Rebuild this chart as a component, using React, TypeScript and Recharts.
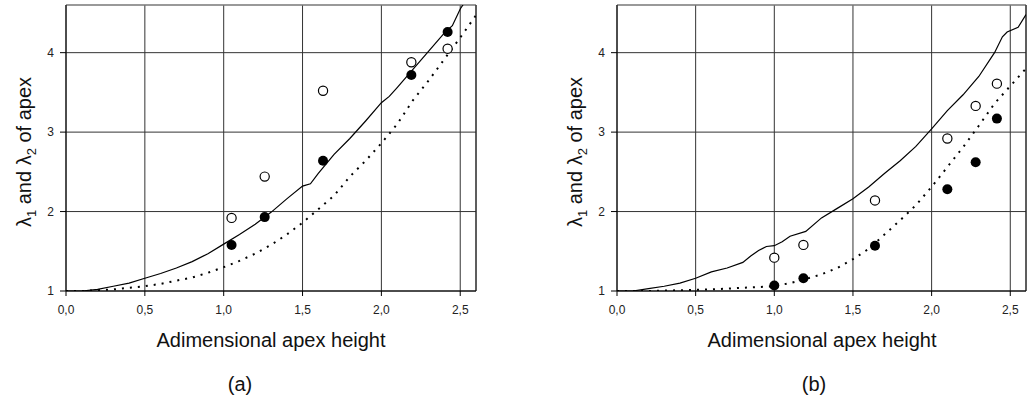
import React from "react";
import {
  ComposedChart,
  Line,
  Scatter,
  XAxis,
  YAxis,
  CartesianGrid,
  ReferenceLine,
} from "recharts";

// ---------- data ----------
const xTicks = [0, 0.5, 1, 1.5, 2, 2.5];
const yTicks = [1, 2, 3, 4];

// panel (a)
const aSolid = [
  { x: 0, y: 1.0 }, { x: 0.1, y: 1.0 }, { x: 0.2, y: 1.02 }, { x: 0.3, y: 1.06 },
  { x: 0.4, y: 1.1 }, { x: 0.5, y: 1.16 }, { x: 0.6, y: 1.22 }, { x: 0.7, y: 1.29 },
  { x: 0.8, y: 1.37 }, { x: 0.9, y: 1.47 }, { x: 1.0, y: 1.59 }, { x: 1.1, y: 1.71 },
  { x: 1.2, y: 1.84 }, { x: 1.3, y: 1.99 }, { x: 1.4, y: 2.16 }, { x: 1.5, y: 2.32 },
  { x: 1.55, y: 2.35 }, { x: 1.6, y: 2.48 }, { x: 1.7, y: 2.72 }, { x: 1.8, y: 2.92 },
  { x: 1.9, y: 3.14 }, { x: 2.0, y: 3.37 }, { x: 2.05, y: 3.45 }, { x: 2.1, y: 3.56 },
  { x: 2.2, y: 3.79 }, { x: 2.3, y: 4.02 }, { x: 2.4, y: 4.25 }, { x: 2.45, y: 4.34 },
  { x: 2.5, y: 4.55 }, { x: 2.55, y: 4.7 },
];
const aDotted = [
  { x: 0, y: 1.0 }, { x: 0.1, y: 1.0 }, { x: 0.2, y: 1.01 }, { x: 0.3, y: 1.02 },
  { x: 0.4, y: 1.04 }, { x: 0.5, y: 1.06 }, { x: 0.6, y: 1.09 }, { x: 0.7, y: 1.13 },
  { x: 0.8, y: 1.17 }, { x: 0.9, y: 1.23 }, { x: 1.0, y: 1.3 }, { x: 1.1, y: 1.38 },
  { x: 1.2, y: 1.47 }, { x: 1.3, y: 1.58 }, { x: 1.4, y: 1.71 }, { x: 1.5, y: 1.86 },
  { x: 1.6, y: 2.03 }, { x: 1.7, y: 2.2 }, { x: 1.8, y: 2.44 }, { x: 1.9, y: 2.64 },
  { x: 2.0, y: 2.86 }, { x: 2.1, y: 3.1 }, { x: 2.2, y: 3.4 }, { x: 2.3, y: 3.65 },
  { x: 2.4, y: 3.92 }, { x: 2.5, y: 4.19 }, { x: 2.6, y: 4.47 },
];
const aFilled = [
  { x: 1.05, y: 1.58 }, { x: 1.26, y: 1.93 }, { x: 1.63, y: 2.64 },
  { x: 2.19, y: 3.72 }, { x: 2.42, y: 4.26 },
];
const aOpen = [
  { x: 1.05, y: 1.92 }, { x: 1.26, y: 2.44 }, { x: 1.63, y: 3.52 },
  { x: 2.19, y: 3.88 }, { x: 2.42, y: 4.05 },
];

// panel (b)
const bSolid = [
  { x: 0, y: 1.0 }, { x: 0.1, y: 1.0 }, { x: 0.2, y: 1.03 }, { x: 0.3, y: 1.06 },
  { x: 0.4, y: 1.1 }, { x: 0.5, y: 1.16 }, { x: 0.6, y: 1.24 }, { x: 0.7, y: 1.29 },
  { x: 0.8, y: 1.36 }, { x: 0.85, y: 1.44 }, { x: 0.9, y: 1.51 }, { x: 0.95, y: 1.56 },
  { x: 1.0, y: 1.57 }, { x: 1.05, y: 1.62 }, { x: 1.1, y: 1.69 }, { x: 1.2, y: 1.75 },
  { x: 1.3, y: 1.92 }, { x: 1.4, y: 2.04 }, { x: 1.5, y: 2.16 }, { x: 1.6, y: 2.31 },
  { x: 1.7, y: 2.48 }, { x: 1.8, y: 2.64 }, { x: 1.9, y: 2.82 }, { x: 2.0, y: 3.04 },
  { x: 2.1, y: 3.27 }, { x: 2.2, y: 3.47 }, { x: 2.3, y: 3.7 }, { x: 2.4, y: 4.0 },
  { x: 2.45, y: 4.2 }, { x: 2.48, y: 4.26 }, { x: 2.55, y: 4.32 }, { x: 2.6, y: 4.48 },
];
const bDotted = [
  { x: 0, y: 1.0 }, { x: 0.2, y: 1.0 }, { x: 0.4, y: 1.01 }, { x: 0.6, y: 1.02 },
  { x: 0.8, y: 1.04 }, { x: 1.0, y: 1.06 }, { x: 1.1, y: 1.1 }, { x: 1.2, y: 1.15 },
  { x: 1.3, y: 1.21 }, { x: 1.4, y: 1.29 }, { x: 1.5, y: 1.4 }, { x: 1.6, y: 1.53 },
  { x: 1.7, y: 1.71 }, { x: 1.8, y: 1.89 }, { x: 1.9, y: 2.08 }, { x: 2.0, y: 2.31 },
  { x: 2.1, y: 2.56 }, { x: 2.2, y: 2.81 }, { x: 2.3, y: 3.08 }, { x: 2.4, y: 3.36 },
  { x: 2.5, y: 3.58 }, { x: 2.6, y: 3.8 },
];
const bFilled = [
  { x: 1.0, y: 1.07 }, { x: 1.185, y: 1.16 }, { x: 1.64, y: 1.57 },
  { x: 2.1, y: 2.28 }, { x: 2.28, y: 2.62 }, { x: 2.415, y: 3.17 },
];
const bOpen = [
  { x: 1.0, y: 1.42 }, { x: 1.185, y: 1.58 }, { x: 1.64, y: 2.14 },
  { x: 2.1, y: 2.92 }, { x: 2.28, y: 3.33 }, { x: 2.415, y: 3.61 },
];

const xTitle = "Adimensional apex height";
const panelLabels = ["(a)", "(b)"];

// ---------- rendering ----------
const FONT = "'Liberation Sans', Arial, Helvetica, sans-serif";
const fmtX = (v: number) => v.toFixed(1).replace(".", ",");

const FilledDot = (p: any) => <circle cx={p.cx} cy={p.cy} r={5} fill="#000" />;
const OpenDot = (p: any) => (
  <circle cx={p.cx} cy={p.cy} r={4.6} fill="#fff" stroke="#000" strokeWidth={1.2} />
);

type PanelProps = {
  left: number;
  width: number;
  right: number;
  solid: { x: number; y: number }[];
  dotted: { x: number; y: number }[];
  filled: { x: number; y: number }[];
  open: { x: number; y: number }[];
};

function Panel({ left, width, right, solid, dotted, filled, open }: PanelProps) {
  return (
    <div style={{ position: "absolute", left, top: 0, width, height: 400 }}>
      <ComposedChart
        width={width}
        height={400}
        margin={{ top: 5, right, bottom: 79, left: 0 }}
        style={{ fontFamily: FONT }}
      >
        <CartesianGrid stroke="#333" strokeWidth={1} />
        <XAxis
          type="number"
          dataKey="x"
          domain={[0, 2.6]}
          ticks={xTicks}
          allowDataOverflow
          tickFormatter={fmtX}
          height={30}
          tickSize={5}
          tickMargin={9}
          stroke="#000"
          tick={{ fill: "#222", fontSize: 12, fontFamily: FONT }}
        />
        <YAxis
          type="number"
          dataKey="y"
          domain={[1, 4.6]}
          ticks={yTicks}
          allowDataOverflow
          width={66}
          tickSize={6}
          tickMargin={6}
          stroke="#000"
          tick={{ fill: "#222", fontSize: 12, fontFamily: FONT }}
        />
        <ReferenceLine y={4.6} stroke="#999" strokeWidth={1.2} />
        <ReferenceLine x={2.6} stroke="#222" strokeWidth={1} />
        <Line
          data={dotted}
          dataKey="y"
          type="linear"
          stroke="#000"
          strokeWidth={2}
          strokeDasharray="2 6"
          dot={false}
          activeDot={false}
          isAnimationActive={false}
        />
        <Line
          data={solid}
          dataKey="y"
          type="linear"
          stroke="#000"
          strokeWidth={1.2}
          dot={false}
          activeDot={false}
          isAnimationActive={false}
        />
        <Scatter data={open} dataKey="y" shape={OpenDot} isAnimationActive={false} />
        <Scatter data={filled} dataKey="y" shape={FilledDot} isAnimationActive={false} />
      </ComposedChart>
    </div>
  );
}

function YTitle({ x, y }: { x: number; y: number }) {
  return (
    <text
      x={x}
      y={y}
      transform={`rotate(-90, ${x}, ${y})`}
      textAnchor="middle"
      fontSize={20}
      fontFamily={FONT}
      fill="#111"
    >
      <tspan>λ</tspan>
      <tspan fontSize={13} dy={5}>1</tspan>
      <tspan dy={-5}> and λ</tspan>
      <tspan fontSize={13} dy={5}>2</tspan>
      <tspan dy={-5}> of apex</tspan>
    </text>
  );
}

export default function App() {
  return (
    <div
      style={{
        position: "absolute",
        left: 0,
        top: 0,
        width: 1027,
        height: 400,
        background: "#fff",
        overflow: "hidden",
      }}
    >
      <Panel left={0} width={510} right={34} solid={aSolid} dotted={aDotted} filled={aFilled} open={aOpen} />
      <Panel left={551} width={476} right={1} solid={bSolid} dotted={bDotted} filled={bFilled} open={bOpen} />
      <svg
        width={1027}
        height={400}
        style={{ position: "absolute", left: 0, top: 0, pointerEvents: "none" }}
      >
        <YTitle x={31} y={152} />
        <YTitle x={582} y={152} />
        <text x={271} y={347} textAnchor="middle" fontSize={20} fontFamily={FONT} fill="#111">
          {xTitle}
        </text>
        <text x={822} y={347} textAnchor="middle" fontSize={20} fontFamily={FONT} fill="#111">
          {xTitle}
        </text>
        <text x={240} y={391} textAnchor="middle" fontSize={20} fontFamily={FONT} fill="#111">
          {panelLabels[0]}
        </text>
        <text x={814} y={391} textAnchor="middle" fontSize={20} fontFamily={FONT} fill="#111">
          {panelLabels[1]}
        </text>
      </svg>
    </div>
  );
}
